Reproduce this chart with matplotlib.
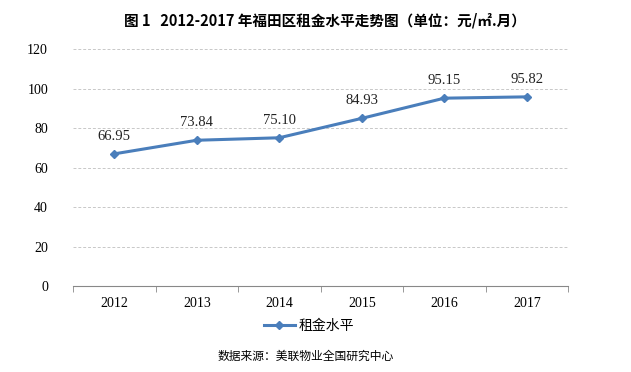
import matplotlib.pyplot as plt
import numpy as np

years = ['2012', '2013', '2014', '2015', '2016', '2017']
rent = [66.95, 73.84, 75.10, 84.93, 95.15, 95.82]
yticks = [0, 20, 40, 60, 80, 100, 120]

plt.rcParams['font.family'] = ['Noto Sans CJK SC', 'DejaVu Sans']

fig = plt.figure(figsize=(6.31, 3.72), dpi=100)
ax = fig.add_axes([0.1157, 0.231, 0.7845, 0.637])

x = np.arange(len(years))
line_color = '#4a7ebb'
ax.plot(x, rent, color=line_color, linewidth=2.2, marker='D', markersize=4,
        label='租金水平')
for xi, v in zip(x, rent):
    ax.annotate(f'{v:.2f}', (xi, v), xytext=(0, 8), textcoords='offset points',
                ha='center', va='bottom', fontsize=10.5, family='Liberation Serif',
                color='#222222')

ax.set_xlim(-0.5, len(years) - 0.5)
ax.set_ylim(0, 120)
ax.set_yticks(yticks)
ax.set_yticklabels([str(t) for t in yticks], family='Liberation Serif', fontsize=10)
ax.set_xticks(x)
ax.set_xticklabels(years, family='Liberation Serif', fontsize=10)
ax.set_xticks(np.arange(-0.5, len(years)), minor=True)
ax.tick_params(axis='x', which='major', length=0, pad=8)
ax.tick_params(axis='x', which='minor', length=4, color='#888888')
ax.tick_params(axis='y', length=0, pad=18)
ax.yaxis.grid(True, linestyle=(0, (3, 2)), color='#c8c8c8', linewidth=0.7)
ax.set_axisbelow(True)
for s in ['top', 'right', 'left']:
    ax.spines[s].set_visible(False)
ax.spines['bottom'].set_color('#888888')

fig.text(0.515, 0.945, '图 1   2012-2017 年福田区租金水平走势图（单位：元/㎡.月）',
         ha='center', va='center', fontsize=10.5, fontweight='bold')
fig.legend(loc='center', bbox_to_anchor=(0.49, 0.125), frameon=False, fontsize=10,
           handlelength=2.2, handletextpad=0.3)
fig.text(0.345, 0.043, '数据来源：美联物业全国研究中心', ha='left', va='center',
         fontsize=8.5)

fig.savefig('out.png', dpi=100)
